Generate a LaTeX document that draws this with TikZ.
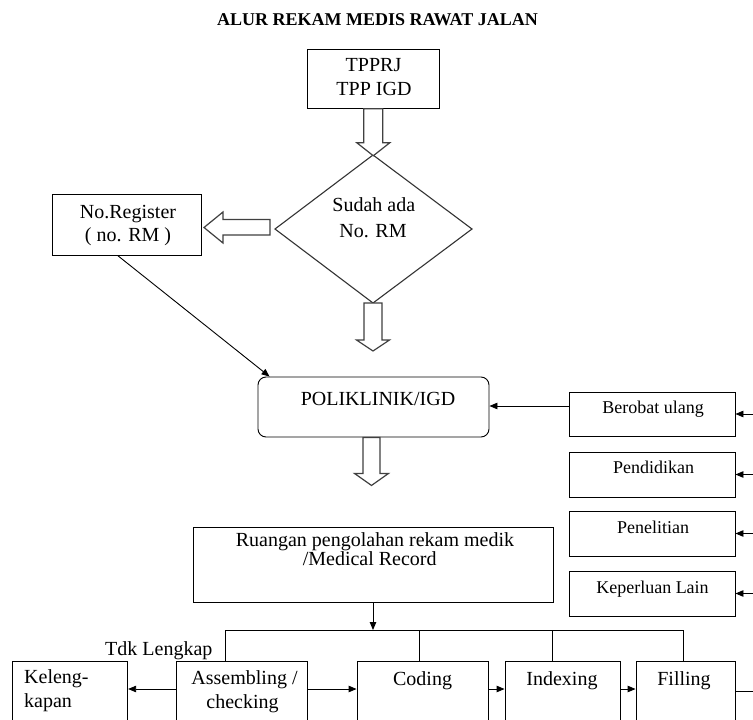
\documentclass[tikz,border=0pt]{standalone}
\usepackage{fontspec}
\setmainfont{Liberation Serif}
\usetikzlibrary{arrows.meta,calc}
\tikzset{
  boxnode/.style={draw=black, line width=0.9pt, inner sep=0pt, rectangle},
  roundbox/.style={boxnode, rounded corners=8pt},
  txt/.style={inner sep=0pt, anchor=base, font=\fontsize{20}{23}\selectfont},
  txtl/.style={inner sep=0pt, anchor=base west, font=\fontsize{20}{23}\selectfont},
  smalltxt/.style={inner sep=0pt, anchor=base, font=\fontsize{18}{21}\selectfont},
  titletxt/.style={inner sep=0pt, anchor=base, font=\bfseries\fontsize{18}{21}\selectfont},
  arr/.style={line width=0.9pt, -{Triangle[length=8pt,width=6.5pt]}},
  plain/.style={line width=0.9pt},
  hollow/.style={draw=black!75, line width=1.2pt, fill=white, line join=miter}
}
\newcommand\blkdown[5]{% #1 top point, #2 shaft half, #3 shaft length, #4 head half, #5 head length
  \draw[hollow] ($#1+(-#2,0)$) -- ++(0,#3) -- ++(#2-#4,0) -- ++(#4,#5) -- ++(#4,-#5) -- ++(#2-#4,0) -- ++(0,-#3) -- cycle;}
\begin{document}
\begin{tikzpicture}[x=1pt,y=-1pt]
\clip (0,0) rectangle (753,720);
\fill[white] (0,0) rectangle (753,720);

% title
\node[titletxt] (title) at (377.5,25) {ALUR REKAM MEDIS RAWAT JALAN};

% TPPRJ box
\node[boxnode, minimum width=132pt, minimum height=59pt] (tpp) at (373.3,78.8) {};
\node[txt] (tppa) at (373.5,71.7) {TPPRJ};
\node[txt] (tppb) at (374,95) {TPP IGD};

% diamond
\coordinate (dtop) at (373,155);
\coordinate (dleft) at (275,229);
\coordinate (dright) at (472,229);
\coordinate (dbot) at (373,303);
\draw[line width=1.1pt, draw=black!80] (dtop) -- (dright) -- (dbot) -- (dleft) -- cycle;
\node[txt] (dia1) at (373.8,211.7) {Sudah ada};
\node[txt] (dia2) at (373,237.3) {No. RM};

% No.Register box
\node[boxnode, minimum width=149pt, minimum height=61pt] (noreg) at (126.5,224.5) {};
\node[txt] (noreg1) at (128,218.3) {No.Register};
\node[txt] (noreg2) at (128,241.7) {( no. RM )};

% POLIKLINIK
\node[roundbox, minimum width=231pt, minimum height=60pt] (poli) at (373.5,407) {};
\node[txt] (polit) at (378,405) {POLIKLINIK/IGD};

% right boxes
\node[boxnode, minimum width=166pt, minimum height=44pt] (berobat) at (652,414) {};
\node[boxnode, minimum width=166pt, minimum height=45pt] (pend) at (652,474.5) {};
\node[boxnode, minimum width=166pt, minimum height=45pt] (pen) at (652,533.5) {};
\node[boxnode, minimum width=166pt, minimum height=45pt] (kep) at (652,593.5) {};
\node[smalltxt] (berobatt) at (653,413.3) {Berobat ulang};
\node[smalltxt] (pendt) at (653.5,473.3) {Pendidikan};
\node[smalltxt] (pent) at (653,533.3) {Penelitian};
\node[smalltxt] (kept) at (652.5,593.3) {Keperluan Lain};

% Ruangan
\node[boxnode, minimum width=360pt, minimum height=75pt] (ruang) at (373,564.5) {};
\node[txt] (ruang1) at (375,546.7) {Ruangan pengolahan rekam medik};
\node[txt] (ruang2) at (369.7,565) {/Medical Record};

% bottom row
\node[boxnode, minimum width=115pt, minimum height=79pt] (kel) at (70.2,700.5) {};
\node[boxnode, minimum width=131pt, minimum height=79pt] (asm) at (241.5,700.5) {};
\node[boxnode, minimum width=131pt, minimum height=79pt] (cod) at (422.5,700.5) {};
\node[boxnode, minimum width=115pt, minimum height=79pt] (idx) at (562.5,700.5) {};
\node[boxnode, minimum width=99pt, minimum height=79pt] (fil) at (685.5,700.5) {};
\node[txtl] (kel1) at (24,683) {Keleng-};
\node[txtl] (kel2) at (24,707) {kapan};
\node[txt] (asm1) at (244.5,684) {Assembling /};
\node[txt] (asm2) at (242.5,708) {checking};
\node[txt] (codt) at (422.6,685) {Coding};
\node[txt] (idxt) at (562,685.5) {Indexing};
\node[txt] (filt) at (684,685) {Filling};
\node[txtl] (tdk) at (105,655) {Tdk Lengkap};

% block arrows
\blkdown{(tpp.south)}{9.5}{34}{16.5}{13}
\blkdown{(dbot)}{9}{37}{16.5}{11}
\blkdown{($(poli.south)+(-2,0)$)}{8.5}{36}{17}{12}
\draw[hollow] (270,219.5) -- (223,219.5) -- (223,212) -- (204,227.5) -- (223,243) -- (223,235) -- (270,235) -- cycle;

% connectors
\draw[arr] ($(noreg.south west)+(66,0)$) -- ($(poli.north west)+(12,0)$);
\coordinate (b1) at ($(berobat.west)+(0,-8)$);
\draw[arr] (b1) -- (b1 -| poli.east);
\coordinate (in1) at (753,414);
\coordinate (in2) at (753,474.5);
\coordinate (in3) at (753,533.5);
\coordinate (in4) at (753,593.5);
\draw[arr] (in1) -- (berobat.east);
\draw[arr] (in2) -- (pend.east);
\draw[arr] (in3) -- (pen.east);
\draw[arr] (in4) -- (kep.east);

\coordinate (bus) at (0,630);
\coordinate (row) at (0,689);
\draw[arr] (ruang.south) -- (ruang.south |- bus);
\coordinate (va) at ($(asm.north west)+(50,0)$);
\coordinate (vc) at ($(cod.north west)+(63,0)$);
\coordinate (vi) at ($(idx.north west)+(48,0)$);
\coordinate (vf) at ($(fil.north west)+(48,0)$);
\draw[plain] (va) -- (va |- bus) -- (vf |- bus) -- (vf);
\draw[plain] (vc |- bus) -- (vc);
\draw[plain] (vi |- bus) -- (vi);
\draw[arr] (asm.west |- row) -- (kel.east |- row);
\draw[arr] (asm.east |- row) -- (cod.west |- row);
\draw[arr] (cod.east |- row) -- (idx.west |- row);
\draw[arr] (idx.east |- row) -- (fil.west |- row);
\coordinate (out) at (753,691);
\draw[plain] (fil.east |- out) -- (out);
\end{tikzpicture}
\end{document}
